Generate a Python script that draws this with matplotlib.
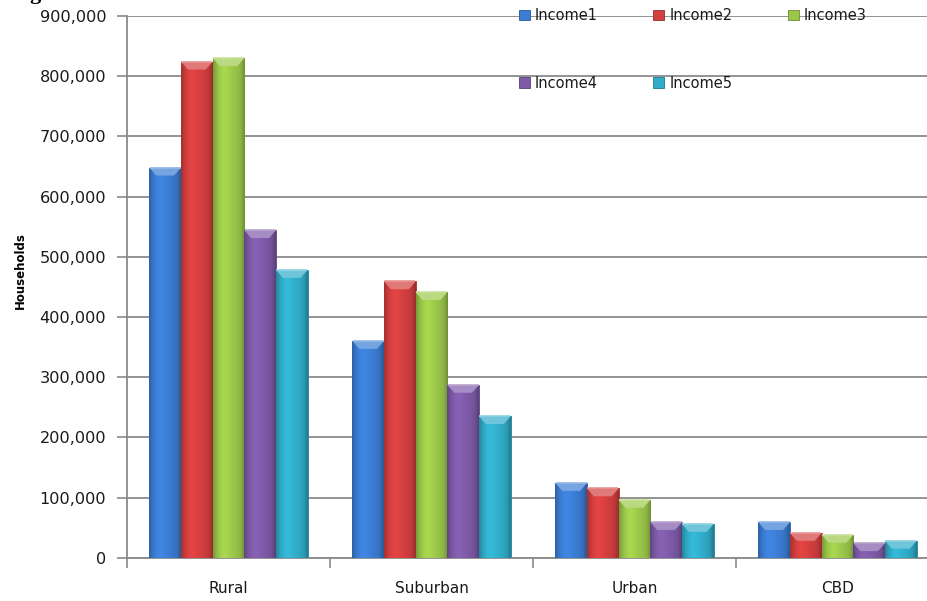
import numpy as np
import matplotlib
matplotlib.use('Agg')
import matplotlib.pyplot as plt
from matplotlib.patches import Polygon, Patch
from matplotlib.colors import to_rgb

# data
areas = ['Rural', 'Suburban', 'Urban', 'CBD']
series = ['Income1', 'Income2', 'Income3', 'Income4', 'Income5']
income1 = [648000, 360000, 124000, 59000]
income2 = [824000, 459000, 115000, 41000]
income3 = [830000, 441000, 96000, 38000]
income4 = [544000, 287000, 59000, 24000]
income5 = [478000, 235000, 56000, 28000]
values = [income1, income2, income3, income4, income5]
colors = ['#3b7dd4', '#d43f3f', '#9cc84a', '#7e5aa8', '#31adca']
yticks = np.arange(0, 900001, 100000)


def shade(c, f):
	r = np.array(to_rgb(c)) * f
	return np.clip(r, 0, 1)


def lighten(c, f):
	r = np.array(to_rgb(c))
	return r + (1 - r) * f


def draw_bar(ax, rect, color, dy):
	x0, y0 = rect.get_x(), rect.get_y()
	w, h = rect.get_width(), rect.get_height()
	# horizontal gradient across the bar face
	prof = np.array([0.78, 0.95, 1.05, 1.08, 1.04, 1.0, 0.96, 0.9, 0.72])
	xs = np.linspace(0, 1, len(prof))
	xi = np.linspace(0, 1, 40)
	f = np.interp(xi, xs, prof)
	img = np.array([[np.clip(np.array(to_rgb(color)) * k, 0, 1) for k in f]])
	im = ax.imshow(img, extent=(x0, x0 + w, y0, y0 + h), aspect='auto',
				   interpolation='bilinear', zorder=3)
	im.set_clip_path(rect)
	# bevel on top
	b = min(dy, h)
	d = w * 0.22
	top = Polygon([(x0, y0 + h), (x0 + w, y0 + h), (x0 + w - d, y0 + h - b),
				   (x0 + d, y0 + h - b)], closed=True,
				  facecolor=lighten(color, 0.3), edgecolor='none', zorder=4)
	ax.add_patch(top)
	ax.plot([x0 + 0.01 * w, x0 + 0.99 * w], [y0 + h, y0 + h], color=lighten(color, 0.45),
			lw=1.2, zorder=5, solid_capstyle='butt')


def main():
	fig = plt.figure(figsize=(9.27, 6.01), dpi=100)
	ax = fig.add_axes([127 / 927, 43.3 / 601, 812 / 927, 541.7 / 601])

	n = len(series)
	group = 0.78
	bw = group / n
	x = np.arange(len(areas))
	for i in range(n):
		pos = x + (1 - group) / 2 + bw * i
		bars = ax.bar(pos, values[i], width=bw, align='edge', color=colors[i],
					  edgecolor=shade(colors[i], 0.75), linewidth=0.6, zorder=2)
		for r in bars:
			draw_bar(ax, r, colors[i], 13000)

	ax.set_xlim(0, len(areas))
	ax.set_ylim(0, 900000)
	ax.set_yticks(yticks)
	ax.set_yticklabels(['{:,}'.format(v) for v in yticks])
	ax.yaxis.grid(True, color='#8a8a8a', linewidth=1.3)
	ax.set_axisbelow(True)

	ax.set_xticks(np.arange(len(areas) + 1))
	ax.set_xticklabels([])
	ax.set_xticks(x + 0.5, minor=True)
	ax.set_xticklabels(areas, minor=True)
	ax.tick_params(axis='x', which='major', length=7, width=1.2, color='#8a8a8a', direction='out')
	ax.tick_params(axis='x', which='minor', length=0, pad=17, labelsize=11, labelcolor='#1a1a1a')
	ax.tick_params(axis='y', length=7, width=1.2, color='#8a8a8a', pad=8, labelsize=11.6,
				   labelcolor='#1a1a1a')

	for s in ['top', 'right']:
		ax.spines[s].set_visible(False)
	for s in ['left', 'bottom']:
		ax.spines[s].set_color('#8a8a8a')
		ax.spines[s].set_linewidth(1.3)

	ax.set_ylabel('Households', fontsize=8.5, fontweight='bold')
	ax.yaxis.set_label_coords(-100 / 812, 0.53)

	handles = [Patch(facecolor=c, edgecolor=shade(c, 0.7), linewidth=0.6) for c in colors]
	order = [0, 3, 1, 4, 2]
	leg = fig.legend([handles[k] for k in order], [series[k] for k in order], ncol=3,
					 loc='upper left', bbox_to_anchor=(519 / 927, 1 - 8 / 601), frameon=False,
					 fontsize=10.5, handlelength=0.75, handleheight=0.75, handletextpad=0.35,
					 columnspacing=3.8, labelspacing=3.6, borderpad=0, borderaxespad=0)
	for t in leg.get_texts():
		t.set_color('#1a1a1a')

	# clipped title remnant at top edge
	fig.text(29 / 927, 1 + 1 / 601, 'g', family='Liberation Serif', fontsize=16,
			 fontweight='bold', va='baseline', ha='left')

	fig.savefig('out.png', dpi=100)


if __name__ == '__main__':
	main()
